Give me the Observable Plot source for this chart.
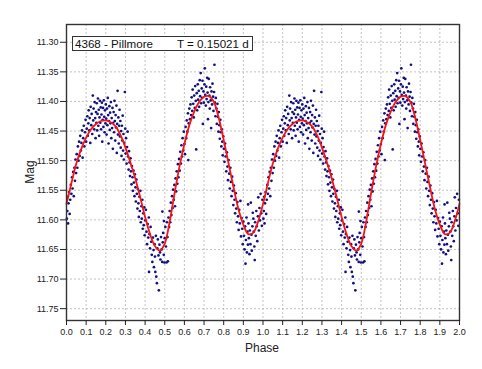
<!DOCTYPE html>
<html>
<head>
<meta charset="utf-8">
<script src="https://cdn.jsdelivr.net/npm/d3@7"></script>
<script src="https://cdn.jsdelivr.net/npm/@observablehq/plot@0.6"></script>
<style>
  html, body { margin: 0; padding: 0; background: #fff; }
  #wrap { position: relative; width: 482px; height: 369px; font-family: "Liberation Sans", Arial, sans-serif; }
  #legend { position: absolute; left: 72px; top: 36px; width: 177px; height: 13px; border: 1px solid #333; background: #fff;
            font-size: 11.6px; line-height: 13px; color: #111; white-space: pre; padding: 0 0 0 2px; }
  #ylab { position: absolute; left: 30px; top: 172px; transform: translate(-50%, -50%) rotate(-90deg); font-size: 12px; color: #222; }
  #xlab { position: absolute; left: 262px; top: 348px; transform: translate(-50%, -50%); font-size: 12px; color: #222; }
</style>
</head>
<body>
<div id="wrap">
  <div id="chart"></div>
  <div id="legend"><span>4368 - Pillmore</span><span style="position:absolute;left:104px">T = 0.15021 d</span></div>
  <div id="ylab">Mag</div>
  <div id="xlab">Phase</div>
</div>
<script>
const xTicks = [0.0,0.1,0.2,0.3,0.4,0.5,0.6,0.7,0.8,0.9,1.0,1.1,1.2,1.3,1.4,1.5,1.6,1.7,1.8,1.9,2.0];
const yTicks = [11.30,11.35,11.40,11.45,11.50,11.55,11.60,11.65,11.70,11.75];

// Fourier fit curve, one cycle (phase, mag)
const curveCycle = [
[0.000,11.573],[0.025,11.538],[0.050,11.505],[0.075,11.480],[0.100,11.461],[0.125,11.447],[0.150,11.438],[0.175,11.433],
[0.200,11.432],[0.225,11.435],[0.250,11.442],[0.275,11.457],[0.300,11.478],[0.325,11.503],[0.350,11.530],[0.375,11.562],
[0.400,11.595],[0.425,11.624],[0.450,11.644],[0.475,11.652],[0.500,11.640],[0.525,11.603],[0.550,11.555],[0.575,11.510],
[0.600,11.472],[0.625,11.440],[0.650,11.417],[0.675,11.401],[0.700,11.392],[0.725,11.391],[0.750,11.401],[0.775,11.428],
[0.800,11.465],[0.825,11.505],[0.850,11.545],[0.875,11.582],[0.900,11.608],[0.925,11.624],[0.950,11.622],[0.975,11.603],
[1.000,11.573]
];

// Observations, one cycle (phase, mag)
const obsCycle = [
[0.002,11.598],[0.004,11.585],[0.006,11.561],[0.008,11.606],[0.010,11.572],[0.013,11.553],[0.016,11.590],[0.019,11.566],[0.022,11.541],[0.025,11.556],[0.028,11.528],[0.031,11.547],[0.034,11.519],[0.037,11.560],[0.040,11.512],[0.043,11.534],[0.046,11.498],[0.049,11.521],
[0.052,11.489],[0.055,11.512],[0.058,11.476],[0.061,11.500],[0.064,11.468],[0.067,11.492],[0.070,11.458],[0.073,11.483],[0.076,11.470],[0.079,11.449],[0.082,11.495],[0.085,11.462],[0.088,11.441],[0.091,11.476],[0.094,11.452],[0.097,11.431],[0.100,11.468],
[0.103,11.446],[0.106,11.425],[0.108,11.458],[0.111,11.437],[0.113,11.415],[0.116,11.449],[0.118,11.428],[0.121,11.470],[0.123,11.409],[0.126,11.440],[0.128,11.421],[0.131,11.455],[0.134,11.390],[0.136,11.432],[0.138,11.412],[0.141,11.447],[0.143,11.401],[0.146,11.428],[0.148,11.462],[0.150,11.418],
[0.152,11.436],[0.154,11.403],[0.156,11.449],[0.158,11.421],[0.160,11.395],[0.162,11.441],[0.164,11.414],[0.166,11.458],[0.168,11.427],[0.170,11.399],[0.172,11.436],[0.174,11.410],[0.176,11.447],[0.178,11.422],[0.180,11.402],[0.182,11.468],[0.184,11.431],[0.186,11.411],[0.188,11.443],[0.190,11.398],[0.192,11.426],[0.194,11.452],[0.196,11.415],[0.198,11.437],[0.200,11.405],
[0.202,11.429],[0.204,11.456],[0.206,11.412],[0.208,11.440],[0.210,11.394],[0.212,11.423],[0.214,11.471],[0.216,11.433],[0.218,11.408],[0.220,11.448],[0.222,11.419],[0.224,11.437],[0.226,11.401],[0.228,11.462],[0.230,11.428],[0.232,11.445],[0.234,11.411],[0.236,11.480],[0.238,11.436],[0.240,11.418],[0.242,11.452],[0.244,11.399],[0.246,11.433],[0.248,11.466],[0.250,11.423],[0.252,11.444],[0.254,11.407],[0.256,11.487],[0.258,11.438],[0.260,11.382],[0.262,11.456],[0.264,11.427],[0.266,11.471],[0.268,11.441],[0.270,11.414],
[0.272,11.459],[0.274,11.433],[0.276,11.478],[0.278,11.450],[0.280,11.492],[0.282,11.441],[0.284,11.466],[0.286,11.424],[0.288,11.483],[0.290,11.455],[0.292,11.498],[0.294,11.470],[0.297,11.384],[0.299,11.446],[0.301,11.488],[0.303,11.462],[0.306,11.505],[0.308,11.477],[0.311,11.451],[0.313,11.493],[0.316,11.515],[0.318,11.484],[0.321,11.503],[0.323,11.526],[0.326,11.496],[0.328,11.518],[0.331,11.540],[0.333,11.509],[0.336,11.528],[0.338,11.551],[0.341,11.517],[0.343,11.537],[0.346,11.560],[0.348,11.523],
[0.351,11.545],[0.353,11.569],[0.356,11.532],[0.358,11.556],[0.361,11.581],[0.363,11.548],[0.366,11.572],[0.368,11.595],[0.371,11.561],[0.373,11.585],[0.376,11.551],[0.378,11.604],[0.381,11.577],[0.383,11.598],[0.386,11.566],[0.388,11.615],[0.391,11.589],[0.393,11.609],[0.396,11.579],[0.398,11.626],[0.401,11.601],[0.404,11.583],[0.407,11.620],[0.410,11.641],[0.413,11.607],[0.416,11.630],[0.419,11.596],
[0.420,11.688],[0.422,11.624],[0.425,11.648],[0.428,11.612],[0.431,11.637],[0.434,11.659],[0.437,11.671],[0.440,11.630],[0.443,11.651],[0.445,11.680],[0.448,11.641],[0.450,11.662],[0.452,11.688],[0.455,11.627],[0.457,11.696],[0.460,11.707],[0.462,11.648],[0.465,11.633],[0.468,11.660],[0.470,11.719],[0.473,11.642],[0.476,11.655],[0.478,11.667],[0.481,11.629],[0.484,11.650],[0.487,11.671],[0.488,11.586],[0.490,11.638],[0.492,11.622],[0.495,11.659],[0.496,11.602],[0.498,11.672],[0.500,11.631],[0.503,11.612],[0.506,11.645],[0.509,11.672],[0.511,11.604],[0.514,11.629],[0.516,11.670],[0.519,11.596],
[0.522,11.612],[0.525,11.585],[0.528,11.604],[0.531,11.571],[0.534,11.592],[0.537,11.560],[0.540,11.580],[0.543,11.549],[0.546,11.566],[0.549,11.541],[0.552,11.577],[0.555,11.530],[0.558,11.552],[0.561,11.518],[0.564,11.539],[0.567,11.506],[0.570,11.528],[0.573,11.497],[0.576,11.517],[0.579,11.485],[0.582,11.505],[0.585,11.474],[0.588,11.493],[0.591,11.462],[0.594,11.483],[0.597,11.451],[0.600,11.472],[0.603,11.489],[0.606,11.443],[0.609,11.462],[0.612,11.432],[0.615,11.451],[0.618,11.420],[0.620,11.499],
[0.622,11.437],[0.625,11.412],[0.628,11.430],[0.631,11.405],[0.634,11.423],[0.637,11.393],[0.640,11.416],[0.642,11.380],[0.645,11.404],[0.648,11.427],[0.650,11.390],[0.653,11.411],[0.655,11.374],[0.658,11.399],[0.660,11.481],[0.663,11.386],[0.665,11.415],[0.668,11.371],[0.670,11.397],[0.673,11.382],[0.675,11.409],[0.678,11.364],[0.680,11.391],[0.683,11.352],[0.685,11.403],[0.688,11.378],[0.690,11.394],[0.692,11.365],[0.694,11.438],[0.697,11.383],[0.699,11.402],[0.702,11.371],[0.704,11.344],[0.706,11.389],[0.709,11.407],[0.711,11.375],[0.713,11.396],[0.716,11.360],[0.718,11.385],[0.720,11.430],[0.722,11.401],[0.724,11.362],[0.727,11.390],[0.729,11.412],[0.731,11.376],[0.734,11.398],[0.736,11.445],[0.738,11.383],[0.741,11.405],[0.743,11.370],[0.746,11.392],[0.748,11.416],[0.751,11.384],[0.753,11.338],[0.755,11.402],[0.758,11.425],[0.760,11.394],[0.763,11.412],[0.765,11.438],[0.768,11.404],[0.770,11.426],[0.773,11.451],[0.775,11.418],[0.778,11.440],[0.780,11.463],[0.783,11.431],[0.785,11.452],[0.788,11.476],[0.790,11.447],[0.793,11.468],[0.795,11.491],[0.798,11.459],
[0.801,11.480],[0.804,11.502],[0.807,11.471],[0.810,11.493],[0.813,11.518],[0.816,11.486],[0.819,11.510],[0.822,11.533],[0.825,11.499],[0.828,11.522],[0.831,11.547],[0.834,11.512],[0.837,11.536],[0.840,11.560],[0.843,11.527],[0.846,11.551],[0.849,11.575],[0.852,11.542],[0.855,11.566],[0.858,11.589],[0.861,11.555],[0.864,11.581],[0.867,11.604],[0.870,11.570],[0.873,11.594],[0.876,11.617],[0.879,11.583],[0.882,11.606],[0.885,11.568],[0.888,11.628],[0.891,11.597],
[0.894,11.615],[0.897,11.641],[0.900,11.603],[0.903,11.627],[0.906,11.650],[0.909,11.611],[0.911,11.674],[0.913,11.634],[0.916,11.596],[0.918,11.655],[0.921,11.620],[0.923,11.642],[0.924,11.574],[0.926,11.606],[0.928,11.631],[0.931,11.658],[0.933,11.618],[0.936,11.641],[0.938,11.571],[0.941,11.625],[0.943,11.652],[0.946,11.611],[0.948,11.588],[0.951,11.598],[0.953,11.620],[0.956,11.645],[0.958,11.668],[0.960,11.604],[0.963,11.627],[0.966,11.585],[0.968,11.611],[0.971,11.636],[0.974,11.594],[0.976,11.562],[0.979,11.618],[0.982,11.580],[0.985,11.601],[0.988,11.556],[0.991,11.589],[0.994,11.610],[0.997,11.566]
];

// The chart shows two cycles: the same cycle drawn at phase and phase + 1
const obs = obsCycle.flatMap(([p, m]) => [{phase: p, mag: m}, {phase: p + 1, mag: m}]);
const curve = [
  ...curveCycle.map(([p, m]) => ({phase: p, mag: m})),
  ...curveCycle.slice(1).map(([p, m]) => ({phase: p + 1, mag: m}))
];

const chart = Plot.plot({
  width: 482,
  height: 369,
  marginLeft: 66,
  marginRight: 23,
  marginTop: 24,
  marginBottom: 49,
  style: {fontFamily: "'Liberation Sans', Arial, sans-serif", background: "#fff", color: "#222"},
  x: {domain: [0, 2]},
  y: {domain: [11.27, 11.77], reverse: true},
  marks: [
    Plot.gridX(xTicks, {stroke: "#b4b4b4", strokeOpacity: 1, strokeDasharray: "2,2", strokeWidth: 0.8}),
    Plot.gridY(yTicks, {stroke: "#b4b4b4", strokeOpacity: 1, strokeDasharray: "2,2", strokeWidth: 0.8}),
    Plot.dot(obs, {x: "phase", y: "mag", r: 1.35, fill: "#10107f", stroke: null}),
    Plot.line(curve, {x: "phase", y: "mag", stroke: "#ff1010", strokeWidth: 1.8, curve: "catmull-rom"}),
    Plot.frame({stroke: "#333", strokeWidth: 1.4}),
    Plot.axisX({ticks: xTicks, tickFormat: d3.format(".1f"), tickSize: 5, tickPadding: 3, fontSize: 9, label: null, stroke: "#222"}),
    Plot.axisY({ticks: yTicks, tickFormat: d3.format(".2f"), tickSize: 6, tickPadding: 2, fontSize: 9, label: null, stroke: "#222"})
  ]
});
document.getElementById("chart").appendChild(chart);
</script>
</body>
</html>
